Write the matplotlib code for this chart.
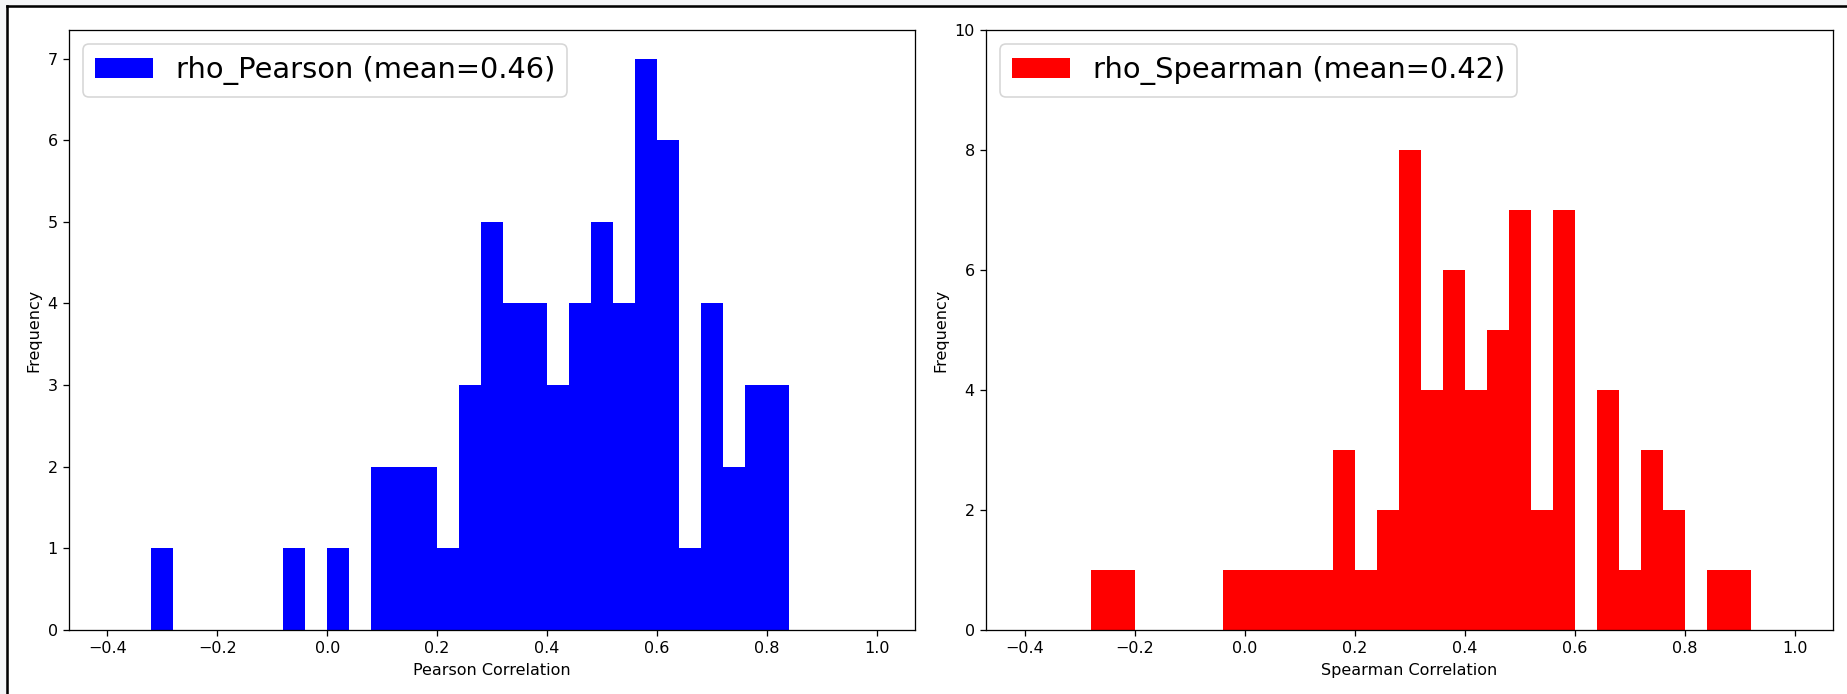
import numpy as np
import matplotlib
matplotlib.use("Agg")
import matplotlib.pyplot as plt
from matplotlib.lines import Line2D
from matplotlib.patches import Rectangle

# Histogram bins: 35 bins of width 0.04 from -0.4 to 1.0
bin_lo, bin_hi, n_bins = -0.4, 1.0, 35

# Counts per bin, starting at bin [-0.40, -0.36)
pearson_counts = [0, 0, 1, 0, 0, 0, 0, 0, 1, 0,
                  1, 0, 2, 2, 2, 1, 3, 5, 4, 4,
                  3, 4, 5, 4, 7, 6, 1, 4, 2, 3,
                  3, 0, 0, 0, 0]
spearman_counts = [0, 0, 0, 1, 1, 0, 0, 0, 0, 1,
                   1, 1, 1, 1, 3, 1, 2, 8, 4, 6,
                   4, 5, 7, 2, 7, 0, 4, 1, 3, 2,
                   0, 1, 1, 0, 0]
pearson_label = "rho_Pearson (mean=0.46)"
spearman_label = "rho_Spearman (mean=0.42)"
xlabels = ["Pearson Correlation", "Spearman Correlation"]

W, H = 1847, 694
DPI = 115.44
fig = plt.figure(figsize=(W / DPI, H / DPI), dpi=DPI)
fig.patch.set_facecolor("white")

edges = np.linspace(bin_lo, bin_hi, n_bins + 1)
centers = (edges[:-1] + edges[1:]) / 2

ax1 = fig.add_axes([69 / W, 1 - 630 / H, 846 / W, 600 / H])
ax2 = fig.add_axes([986 / W, 1 - 630 / H, 847 / W, 600 / H])

ax1.hist(centers, bins=edges, weights=pearson_counts, color="blue", label=pearson_label)
ax2.hist(centers, bins=edges, weights=spearman_counts, color="red", label=spearman_label)
ax2.set_ylim(0, 10)

for ax, xl in zip([ax1, ax2], xlabels):
    ax.set_xlabel(xl, fontsize=10)
    ax.set_ylabel("Frequency", fontsize=10)
    ax.tick_params(labelsize=10)
    ax.legend(loc="upper left", fontsize=18)

# screenshot frame: light margin and black border lines at top and left
fig.add_artist(Rectangle((0, 1 - 5 / H), 1, 5 / H, transform=fig.transFigure,
                         facecolor="#f4f5f7", edgecolor="none", zorder=-1))
fig.add_artist(Rectangle((0, 0), 6 / W, 1, transform=fig.transFigure,
                         facecolor="#f4f5f7", edgecolor="none", zorder=-1))
fig.add_artist(Line2D([7 / W, 1], [1 - 6 / H, 1 - 6 / H], transform=fig.transFigure,
                      color="black", linewidth=1.6))
fig.add_artist(Line2D([7 / W, 7 / W], [0, 1 - 6 / H], transform=fig.transFigure,
                      color="black", linewidth=1.6))

fig.savefig("out.png", dpi=DPI)
